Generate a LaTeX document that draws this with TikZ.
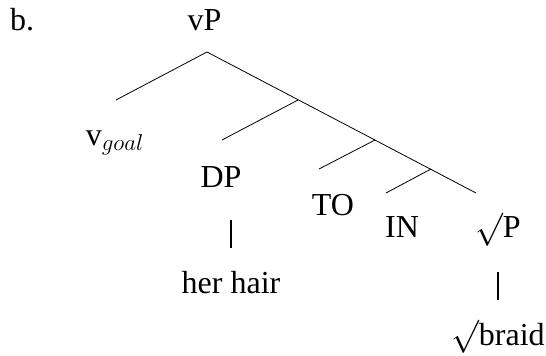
\documentclass[tikz,border=0pt]{standalone}
\usepackage{fontspec}
\setmainfont{Liberation Serif}

\begin{document}
\begin{tikzpicture}[x=0.75pt,y=0.75pt,yscale=-1,xscale=1,
  lbl/.style={anchor=base,inner sep=0.75pt,font=\fontsize{24}{28}\selectfont},
  branch/.style={line width=0.6pt},
  bar/.style={line width=1.3pt}]
\useasboundingbox (0,0) rectangle (546,356);

%Branch points [id:apex]
\coordinate (apex) at (207,52);
\coordinate (b1) at (298,100);
\coordinate (b2) at (375,140);
\coordinate (b3) at (431,169);
%Line ends
\coordinate (vend) at (116,100);
\coordinate (dpend) at (222,140);
\coordinate (toend) at (319,169);
\coordinate (inend) at (386,193);
\coordinate (rpend) at (476,193);

% Text Node
\node[lbl] (ex) at (22,31) {b.};
% Text Node
\node[lbl] (vp) at (204.5,31) {vP};
% Text Node
\node[lbl] (vgoal) at (115,146) {v$_{goal}$};
% Text Node
\node[lbl] (dp) at (221,187) {DP};
% Text Node
\node[lbl] (to) at (333,215) {TO};
% Text Node
\node[lbl] (in) at (402,238) {IN};
% Text Node
\node[lbl] (rp) at (498,238) {$\surd$P};
% Text Node
\node[lbl] (hh) at (231,293) {her hair};
% Text Node
\node[lbl] (braid) at (498,345) {$\surd$braid};

%Straight Lines
\draw[branch] (apex) -- (vend);
\draw[branch] (apex) -- (rpend);
\draw[branch] (b1) -- (dpend);
\draw[branch] (b2) -- (toend);
\draw[branch] (b3) -- (inend);
%Bars
\draw[bar, shorten <=24.75pt, shorten >=33.75pt] (hh.base |- dp.base) -- (hh.base);
\draw[bar, shorten <=25.5pt, shorten >=33.75pt] (braid.base |- rp.base) -- (braid.base);

\end{tikzpicture}
\end{document}
